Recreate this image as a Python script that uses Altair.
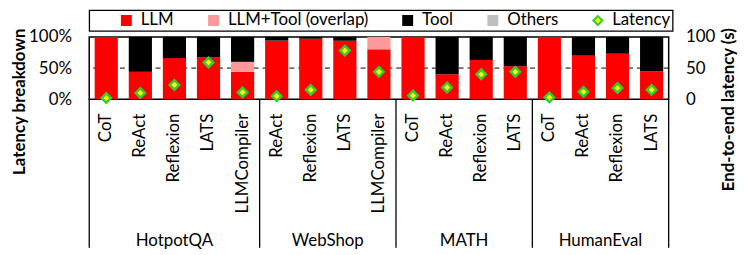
import altair as alt
import pandas as pd

groups = ["HotpotQA", "WebShop", "MATH", "HumanEval"]
methods = [
    ["CoT", "ReAct", "Reflexion", "LATS", "LLMCompiler"],
    ["ReAct", "Reflexion", "LATS", "LLMCompiler"],
    ["CoT", "ReAct", "Reflexion", "LATS"],
    ["CoT", "ReAct", "Reflexion", "LATS"],
]
components = ["LLM", "LLM+Tool (overlap)", "Tool", "Others"]
llm_pct = [100, 44, 66, 67, 44, 94, 97, 94, 80, 100, 40, 63, 53, 100, 70, 73, 45]
overlap_pct = [0, 0, 0, 0, 16, 0, 0, 0, 20, 0, 0, 0, 0, 0, 0, 0, 0]
tool_pct = [0, 56, 34, 33, 40, 6, 3, 6, 0, 0, 60, 37, 47, 0, 30, 27, 55]
others_pct = [0] * 17
latency_s = [2, 10, 23, 59, 11, 5, 15, 78, 44, 6, 19, 40, 44, 3, 12, 18, 15]

FONT = "Lato"
W, H = 585, 63

keys = [f"{g}|{m}" for g, ms in zip(groups, methods) for m in ms]
series = [llm_pct, overlap_pct, tool_pct, others_pct]

bar_rows = []
for i, k in enumerate(keys):
    for j, c in enumerate(components):
        bar_rows.append({"key": k, "comp": c, "value": series[j][i], "ord": j})
bars_df = pd.DataFrame(bar_rows)
lat_df = pd.DataFrame({"key": keys, "latency": latency_s, "series": ["Latency"] * len(keys)})

leg_domain = components + ["Latency"]
color_scale = alt.Scale(domain=leg_domain, range=["#ff0000", "#ff9999", "#000000", "#bfbfbf", "#ffff00"])
shape_scale = alt.Scale(domain=leg_domain, range=["square", "square", "square", "square", "diamond"])
stroke_scale = alt.Scale(domain=leg_domain, range=["#ff0000", "#ff9999", "#000000", "#bfbfbf", "#33cc33"])
leg = alt.Legend(title=None)

xscale = alt.Scale(domain=keys, paddingInner=0, paddingOuter=0)
x_axis = alt.Axis(title=None, labelExpr="split(datum.label, '|')[1]", labelAngle=270,
                  labelAlign="right", labelBaseline="middle", labelPadding=14,
                  ticks=False, domain=False, labelFontSize=17, labelFont=FONT, labelColor="black")
x_enc = alt.X("key:N", scale=xscale, sort=keys, axis=x_axis)

half = alt.Chart(pd.DataFrame({"v": [50]})).mark_rule(
    color="black", strokeDash=[5, 4], strokeWidth=1
).encode(y=alt.Y("v:Q", scale=alt.Scale(domain=[0, 100]), axis=None))

bars = alt.Chart(bars_df).mark_bar(width=alt.RelativeBandSize(0.68)).encode(
    x=x_enc,
    y=alt.Y("value:Q", stack="zero", scale=alt.Scale(domain=[0, 100], nice=False),
            axis=alt.Axis(title="Latency breakdown", orient="left", values=[0, 50, 100],
                          labelExpr="datum.value + '%'", grid=False, ticks=False, domain=False,
                          labelPadding=18, labelFontSize=17, labelFont=FONT, labelColor="black",
                          titleFont=FONT, titleFontSize=17, titleFontWeight="bold",
                          titleAngle=270, titleAlign="center", titleBaseline="middle",
                          titleX=-70, titleY=65, titleColor="black")),
    color=alt.Color("comp:N", scale=color_scale, legend=leg),
    order=alt.Order("ord:Q", sort="ascending"),
)

points = alt.Chart(lat_df).mark_point(filled=True, size=90, strokeWidth=2.5, opacity=1).encode(
    x=alt.X("key:N", scale=xscale, sort=keys),
    y=alt.Y("latency:Q", scale=alt.Scale(domain=[0, 100], nice=False),
            axis=alt.Axis(title="End-to-end latency (s)", orient="right", values=[0, 50, 100],
                          grid=False, ticks=False, domain=False, labelPadding=17,
                          labelFontSize=17, labelFont=FONT, labelColor="black",
                          titleFont=FONT, titleFontSize=17, titleFontWeight="bold",
                          titleAngle=270, titleAlign="center", titleBaseline="middle",
                          titleX=60, titleY=73, titleColor="black")),
    color=alt.Color("series:N", scale=color_scale, legend=leg),
    shape=alt.Shape("series:N", scale=shape_scale, legend=leg),
    stroke=alt.Stroke("series:N", scale=stroke_scale, legend=leg),
)

first_keys = [f"{g}|{ms[0]}" for g, ms in zip(groups, methods)]
last_keys = [f"{groups[-1]}|{methods[-1][-1]}"]
sep_start = alt.Chart(pd.DataFrame({"key": first_keys})).mark_rule(color="black", strokeWidth=1.3).encode(
    x=alt.X("key:N", scale=xscale, sort=keys, bandPosition=0),
    y=alt.value(H), y2=alt.value(H + 150),
)
sep_end = alt.Chart(pd.DataFrame({"key": last_keys})).mark_rule(color="black", strokeWidth=1.3).encode(
    x=alt.X("key:N", scale=xscale, sort=keys, bandPosition=1),
    y=alt.value(H), y2=alt.value(H + 150),
)

odd_rows, even_rows = [], []
for g, ms in zip(groups, methods):
    n = len(ms)
    if n % 2 == 1:
        odd_rows.append({"key": f"{g}|{ms[n // 2]}", "group": g})
    else:
        even_rows.append({"key": f"{g}|{ms[n // 2]}", "group": g})
glab_odd = alt.Chart(pd.DataFrame(odd_rows)).mark_text(
    font=FONT, fontSize=17, color="black", baseline="middle", align="center"
).encode(x=alt.X("key:N", scale=xscale, sort=keys, bandPosition=0.5), y=alt.value(H + 143), text="group:N")
glab_even = alt.Chart(pd.DataFrame(even_rows)).mark_text(
    font=FONT, fontSize=17, color="black", baseline="middle", align="center"
).encode(x=alt.X("key:N", scale=xscale, sort=keys, bandPosition=0), y=alt.value(H + 143), text="group:N")

chart = alt.layer(half, bars, points, sep_start, sep_end, glab_odd, glab_even).resolve_scale(
    y="independent"
).properties(
    width=W, height=H, padding={"left": 3, "right": 3, "top": 0, "bottom": 0}
).configure_view(
    stroke="black", strokeWidth=1.5
).configure_legend(
    orient="top", direction="horizontal", strokeColor="black", strokeWidth=1.3, padding=2,
    offset=6, labelFont=FONT, labelFontSize=17, labelColor="black", symbolSize=81,
    symbolStrokeWidth=2, labelOffset=6, columnPadding=4, symbolOffset=27,
)

chart.save("out.html", embed_options={"renderer": "svg", "actions": False})
